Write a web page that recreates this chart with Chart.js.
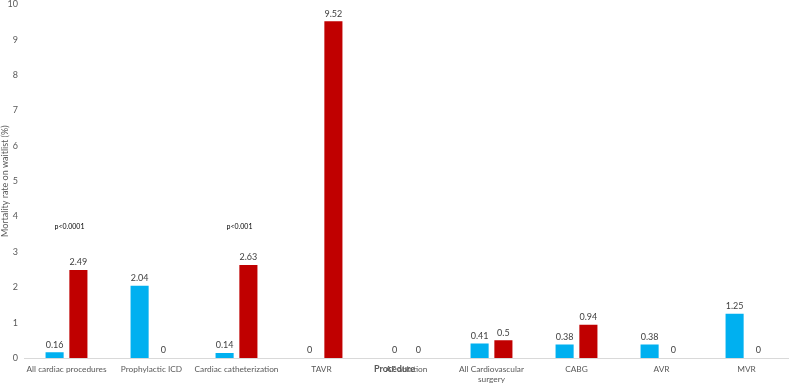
<!DOCTYPE html>
<html>
<head>
<meta charset="utf-8">
<script src="https://cdn.jsdelivr.net/npm/chart.js@4"></script>
<style>
  html, body { margin: 0; padding: 0; background: #fff; overflow: hidden; }
  #wrap { width: 789px; height: 392px; margin-top: -7px; }
</style>
</head>
<body>
<div id="wrap"><canvas id="myChart"></canvas></div>
<script>
const categories = [
  "All cardiac procedures", "Prophylactic ICD", "Cardiac catheterization", "TAVR",
  "AF ablation", ["All Cardiovascular", "surgery"], "CABG", "AVR", "MVR"
];
const blueValues = [0.16, 2.04, 0.14, 0, 0, 0.41, 0.38, 0.38, 1.25];
const redValues = [2.49, 0, 2.63, 9.52, 0, 0.5, 0.94, 0, 0];
const yTicks = [0, 1, 2, 3, 4, 5, 6, 7, 8, 9, 10];
// p-value notes: category index, height on the y scale
const pNotes = [
  { cat: 0, y: 3.72, text: "p<0.0001" },
  { cat: 2, y: 3.72, text: "p<0.001" }
];

const FONT = "Lato, 'Open Sans', sans-serif";

// value labels above bars, p-values and the x axis title
const labelsPlugin = {
  id: "labels",
  afterDatasetsDraw(chart) {
    const ctx = chart.ctx;
    ctx.save();
    ctx.font = "9px " + FONT;
    ctx.fillStyle = "#404040";
    ctx.textAlign = "center";
    ctx.textBaseline = "bottom";
    chart.data.datasets.forEach((ds, di) => {
      chart.getDatasetMeta(di).data.forEach((bar, i) => {
        ctx.fillText(String(ds.data[i]), bar.x, bar.y - 3);
      });
    });

    const x = chart.scales.x, y = chart.scales.y;
    ctx.font = "7px " + FONT;
    ctx.fillStyle = "#000";
    ctx.textBaseline = "middle";
    pNotes.forEach(p => {
      ctx.fillText(p.text, x.getPixelForValue(p.cat) + 3, y.getPixelForValue(p.y));
    });

    ctx.font = "bold 9px " + FONT;
    ctx.fillStyle = "#595959";
    ctx.fillText("Procedure", chart.width / 2, x.top + 11);
    ctx.restore();
  }
};

new Chart(document.getElementById("myChart"), {
  type: "bar",
  data: {
    labels: categories,
    datasets: [
      { label: "Series 1", data: blueValues, backgroundColor: "#00B0F0" },
      { label: "Series 2", data: redValues, backgroundColor: "#C00000" }
    ]
  },
  options: {
    responsive: true,
    maintainAspectRatio: false,
    animation: false,
    datasets: { bar: { categoryPercentage: 0.56, barPercentage: 0.76 } },
    layout: { padding: 0 },
    plugins: { legend: { display: false }, tooltip: { enabled: false } },
    scales: {
      x: {
        afterFit(scale) { scale.height = 27; },
        grid: { display: false, drawTicks: false },
        border: { display: true, color: "#d9d9d9" },
        ticks: { color: "#595959", font: { size: 8.3, family: FONT }, padding: 6, maxRotation: 0, autoSkip: false }
      },
      y: {
        min: 0, max: 10,
        afterBuildTicks(scale) { scale.ticks = yTicks.map(v => ({ value: v })); },
        afterFit(scale) { scale.width = 24; },
        grid: { display: false, drawTicks: false },
        border: { display: false },
        ticks: { color: "#595959", font: { size: 9, family: FONT }, padding: 6 },
        title: { display: true, text: "Mortality rate on waitlist (%)", color: "#595959", font: { size: 9, family: FONT }, padding: 0 }
      }
    }
  },
  plugins: [labelsPlugin]
});
</script>
</body>
</html>
